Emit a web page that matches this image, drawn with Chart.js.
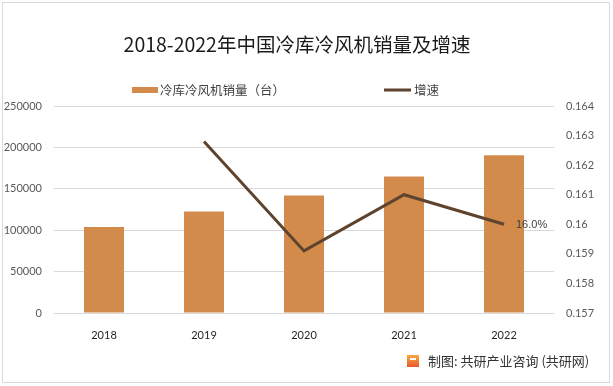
<!DOCTYPE html>
<html>
<head>
<meta charset="utf-8">
<script src="https://cdn.jsdelivr.net/npm/chart.js@4/dist/chart.umd.min.js"></script>
<style>
  html, body { margin: 0; padding: 0; background: #fff; }
  #wrap { width: 613px; height: 386px; }
</style>
</head>
<body>
<div id="wrap"><canvas id="c" width="613" height="386"></canvas></div>
<script>
const years = ['2018', '2019', '2020', '2021', '2022'];
const sales = [104000, 122500, 142000, 165000, 190500];
const growth = [null, 0.1628, 0.1591, 0.161, 0.160];
const leftTicks = ['0', '50000', '100000', '150000', '200000', '250000'];
const rightTicks = ['0.157', '0.158', '0.159', '0.16', '0.161', '0.162', '0.163', '0.164'];

const barColor = '#D38B4C';
const lineColor = '#5E432E';
const cjk = '"Noto Sans CJK SC", sans-serif';

const decor = {
  id: 'decor',
  afterDraw(chart) {
    const c = chart.ctx;
    c.save();
    // outer frame
    c.strokeStyle = '#D9D9D9';
    c.lineWidth = 1;
    c.strokeRect(2.5, 2.5, 607, 380);
    // title
    c.fillStyle = '#1a1a1a';
    c.font = '19.5px ' + cjk;
    c.textAlign = 'center';
    c.textBaseline = 'middle';
    c.fillText('2018-2022年中国冷库冷风机销量及增速', 297, 45);
    // legend
    c.fillStyle = barColor;
    c.fillRect(132, 87, 26, 6);
    c.fillStyle = lineColor;
    c.fillRect(384, 88.5, 27, 3);
    c.fillStyle = '#404040';
    c.font = '12.5px ' + cjk;
    c.textAlign = 'left';
    c.fillText('冷库冷风机销量（台）', 160, 90);
    c.fillText('增速', 414, 90);
    // data label on last point of the growth line
    const meta = chart.getDatasetMeta(0);
    const pt = meta.data[meta.data.length - 1];
    c.font = '11px "Liberation Sans", sans-serif';
    c.fillStyle = '#404040';
    c.fillText((growth[growth.length - 1] * 100).toFixed(1) + '%', pt.x + 12, pt.y + 1);
    // footer
    const g = c.createLinearGradient(0, 356, 0, 368);
    g.addColorStop(0, '#F7A23B');
    g.addColorStop(1, '#E8522E');
    c.fillStyle = g;
    c.fillRect(407, 355, 12, 12);
    c.fillStyle = '#fff';
    c.fillRect(410, 358, 6, 2);
    c.fillStyle = '#333';
    c.font = '13px ' + cjk;
    c.fillText('制图: 共研产业咨询 (共研网)', 428, 361);
    c.restore();
  }
};

new Chart(document.getElementById('c'), {
  data: {
    labels: years,
    datasets: [
      {
        type: 'line',
        label: '增速',
        data: growth,
        yAxisID: 'y1',
        borderColor: lineColor,
        borderWidth: 3,
        pointRadius: 0,
        tension: 0,
        order: 0
      },
      {
        type: 'bar',
        label: '冷库冷风机销量（台）',
        data: sales,
        yAxisID: 'y',
        backgroundColor: barColor,
        categoryPercentage: 0.4,
        barPercentage: 1,
        order: 1
      }
    ]
  },
  options: {
    responsive: false,
    animation: false,
    layout: { padding: { top: 106, bottom: 0, left: 0, right: 0 } },
    plugins: { legend: { display: false }, title: { display: false }, tooltip: { enabled: false } },
    scales: {
      x: {
        grid: { display: false },
        border: { display: false },
        ticks: { color: '#262626', font: { size: 11, family: 'Lato' }, padding: 8 },
        afterFit(s) { s.height = 73; }
      },
      y: {
        position: 'left',
        min: 0, max: 250000,
        ticks: {
          stepSize: 50000,
          color: '#595959',
          font: { size: 11, family: 'Lato' },
          padding: 12,
          callback: (v, i) => leftTicks[i]
        },
        grid: { color: '#D9D9D9', drawTicks: false },
        border: { display: false },
        afterFit(s) { s.width = 54; }
      },
      y1: {
        position: 'right',
        min: 0.157, max: 0.164,
        ticks: {
          stepSize: 0.001,
          color: '#595959',
          font: { size: 11, family: 'Lato' },
          padding: 12,
          callback: (v, i) => rightTicks[i]
        },
        grid: { display: false, drawTicks: false },
        border: { display: false },
        afterFit(s) { s.width = 59; }
      }
    }
  },
  plugins: [decor]
});
</script>
</body>
</html>
